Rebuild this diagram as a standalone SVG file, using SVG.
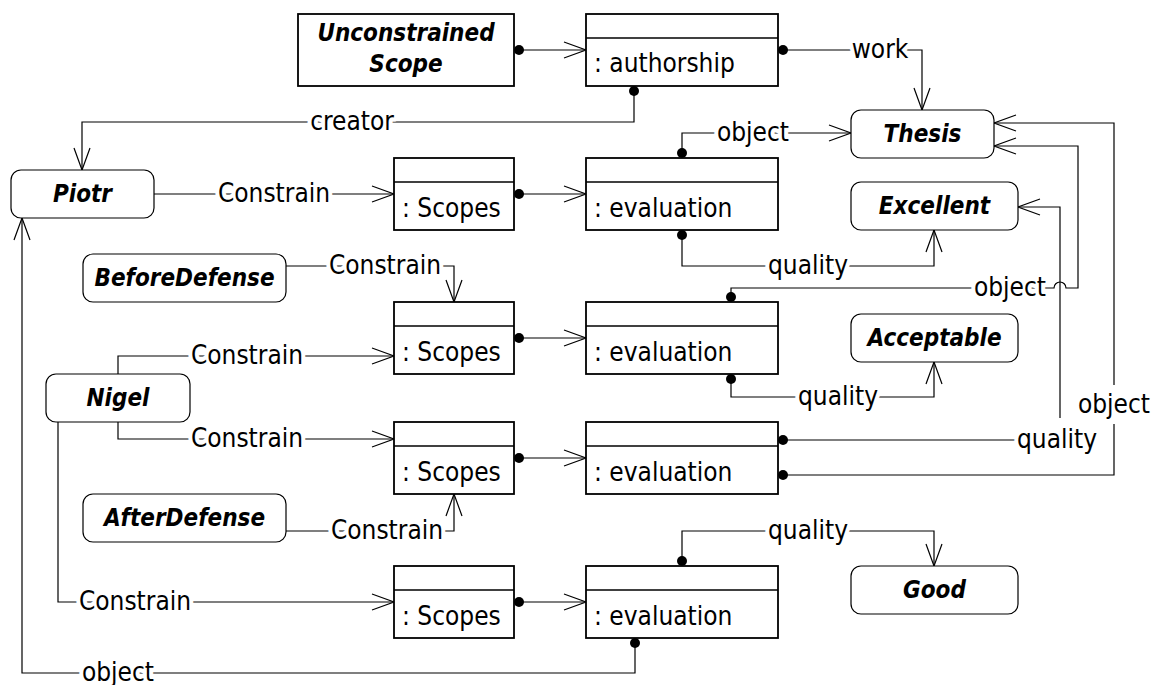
<svg xmlns="http://www.w3.org/2000/svg" width="1156" height="685" viewBox="0 0 1156 685">
<style>
  .box { fill: #fff; stroke: #000; stroke-width: 1.8; }
  .rbox { fill: #fff; stroke: #000; stroke-width: 1.2; }
  .div { stroke: #000; stroke-width: 1.5; }
  .nm { font-family: "DejaVu Sans Condensed", "DejaVu Sans", sans-serif; font-stretch: condensed; font-size: 24px; font-weight: bold; font-style: italic; text-anchor: middle; fill: #000; }
  .cls { font-family: "DejaVu Sans Condensed", "DejaVu Sans", sans-serif; font-stretch: condensed; font-size: 26px; fill: #000; }
  .lbl { font-family: "DejaVu Sans Condensed", "DejaVu Sans", sans-serif; font-stretch: condensed; font-size: 26px; text-anchor: middle; fill: #000; stroke: #fff; stroke-width: 8px; stroke-linejoin: round; paint-order: stroke; }
  .c { fill: none; stroke: #000; stroke-width: 1.2; }
  .a { marker-end: url(#arr); }
  .d { marker-start: url(#dot); }
</style>
<defs>
  <marker id="arr" markerUnits="userSpaceOnUse" markerWidth="26" markerHeight="20" refX="23" refY="9" orient="auto">
    <path d="M1,1 L23,9 L1,17" fill="none" stroke="#000" stroke-width="1.2"/>
  </marker>
  <marker id="dot" markerUnits="userSpaceOnUse" markerWidth="12" markerHeight="12" refX="6" refY="6" orient="auto">
    <circle cx="6" cy="6" r="5" fill="#000"/>
  </marker>
</defs>
<rect width="1156" height="685" fill="#fff"/>

<g id="connectors">
  <path class="c d a" d="M519,50 H586"/>
  <path class="c d a" d="M783,50 H922 V110"/>
  <path class="c d a" d="M634,91 V122 H82 V170"/>
  <path class="c a" d="M154,194 H394"/>
  <path class="c d a" d="M519,194 H586"/>
  <path class="c d a" d="M682,153 V133 H851"/>
  <path class="c d a" d="M682,235 V266 H934 V230"/>
  <path class="c a" d="M286,266 H454 V302"/>
  <path class="c a" d="M118,374 V356 H394"/>
  <path class="c d a" d="M519,338 H586"/>
  <path class="c d a" d="M731,297 V288 H1054 A6,6 0 0 1 1066,288 H1078 V146 H994"/>
  <path class="c d a" d="M731,379 V397 H934 V362"/>
  <path class="c a" d="M118,422 V439 H394"/>
  <path class="c a" d="M286,531 H454 V494"/>
  <path class="c d a" d="M519,458 H586"/>
  <path class="c d" d="M783,440 H1015"/>
  <path class="c a" d="M1060,418 V207 H1018"/>
  <path class="c d" d="M783,475 H1114 V424"/>
  <path class="c a" d="M1114,385 V123 H994"/>
  <path class="c a" d="M58,422 V602 H394"/>
  <path class="c d a" d="M519,602 H586"/>
  <path class="c d a" d="M682,561 V531 H934 V566"/>
  <path class="c d a" d="M635,643 V673 H22 V218"/>

  <text class="lbl" x="880" y="58">work</text>
  <text class="lbl" x="352" y="130">creator</text>
  <text class="lbl" x="274" y="202">Constrain</text>
  <text class="lbl" x="753" y="141">object</text>
  <text class="lbl" x="808" y="274">quality</text>
  <text class="lbl" x="385" y="274">Constrain</text>
  <text class="lbl" x="247" y="364">Constrain</text>
  <text class="lbl" x="1010" y="296">object</text>
  <text class="lbl" x="838" y="405">quality</text>
  <text class="lbl" x="247" y="447">Constrain</text>
  <text class="lbl" x="387" y="539">Constrain</text>
  <text class="lbl" x="1057" y="448">quality</text>
  <text class="lbl" x="1114" y="413">object</text>
  <text class="lbl" x="135" y="610">Constrain</text>
  <text class="lbl" x="808" y="539">quality</text>
  <text class="lbl" x="118" y="681">object</text>
</g>

<g id="unconstrained-scope">
  <rect class="box" x="298" y="14" width="216" height="72"/>
  <text class="nm" x="406" y="41">Unconstrained</text>
  <text class="nm" x="406" y="72">Scope</text>
</g>
<g id="authorship">
  <rect class="box" x="586" y="14" width="192" height="72"/>
  <line class="div" x1="586" y1="38" x2="778" y2="38"/>
  <text class="cls" x="594" y="72">: authorship</text>
</g>
<g id="thesis">
  <rect class="rbox" x="851" y="110" width="143" height="48" rx="10"/>
  <text class="nm" x="922.5" y="142">Thesis</text>
</g>
<g id="piotr">
  <rect class="rbox" x="11" y="170" width="143" height="48" rx="10"/>
  <text class="nm" x="82.5" y="202">Piotr</text>
</g>
<g id="scopes1">
  <rect class="box" x="394" y="158" width="120" height="72"/>
  <line class="div" x1="394" y1="182" x2="514" y2="182"/>
  <text class="cls" x="402" y="217">: Scopes</text>
</g>
<g id="evaluation1">
  <rect class="box" x="586" y="158" width="192" height="72"/>
  <line class="div" x1="586" y1="182" x2="778" y2="182"/>
  <text class="cls" x="594" y="217">: evaluation</text>
</g>
<g id="excellent">
  <rect class="rbox" x="851" y="182" width="167" height="48" rx="10"/>
  <text class="nm" x="934.5" y="214">Excellent</text>
</g>
<g id="before-defense">
  <rect class="rbox" x="83" y="254" width="203" height="48" rx="10"/>
  <text class="nm" x="184.5" y="286">BeforeDefense</text>
</g>
<g id="scopes2">
  <rect class="box" x="394" y="302" width="120" height="72"/>
  <line class="div" x1="394" y1="326" x2="514" y2="326"/>
  <text class="cls" x="402" y="361">: Scopes</text>
</g>
<g id="evaluation2">
  <rect class="box" x="586" y="302" width="192" height="72"/>
  <line class="div" x1="586" y1="326" x2="778" y2="326"/>
  <text class="cls" x="594" y="361">: evaluation</text>
</g>
<g id="acceptable">
  <rect class="rbox" x="851" y="314" width="167" height="48" rx="10"/>
  <text class="nm" x="934.5" y="346">Acceptable</text>
</g>
<g id="nigel">
  <rect class="rbox" x="46" y="374" width="144" height="48" rx="10"/>
  <text class="nm" x="118" y="406">Nigel</text>
</g>
<g id="scopes3">
  <rect class="box" x="394" y="422" width="120" height="72"/>
  <line class="div" x1="394" y1="446" x2="514" y2="446"/>
  <text class="cls" x="402" y="481">: Scopes</text>
</g>
<g id="evaluation3">
  <rect class="box" x="586" y="422" width="192" height="72"/>
  <line class="div" x1="586" y1="446" x2="778" y2="446"/>
  <text class="cls" x="594" y="481">: evaluation</text>
</g>
<g id="after-defense">
  <rect class="rbox" x="83" y="494" width="203" height="48" rx="10"/>
  <text class="nm" x="184.5" y="526">AfterDefense</text>
</g>
<g id="scopes4">
  <rect class="box" x="394" y="566" width="120" height="72"/>
  <line class="div" x1="394" y1="590" x2="514" y2="590"/>
  <text class="cls" x="402" y="625">: Scopes</text>
</g>
<g id="evaluation4">
  <rect class="box" x="586" y="566" width="192" height="72"/>
  <line class="div" x1="586" y1="590" x2="778" y2="590"/>
  <text class="cls" x="594" y="625">: evaluation</text>
</g>
<g id="good">
  <rect class="rbox" x="851" y="566" width="167" height="48" rx="10"/>
  <text class="nm" x="934.5" y="598">Good</text>
</g>
</svg>
